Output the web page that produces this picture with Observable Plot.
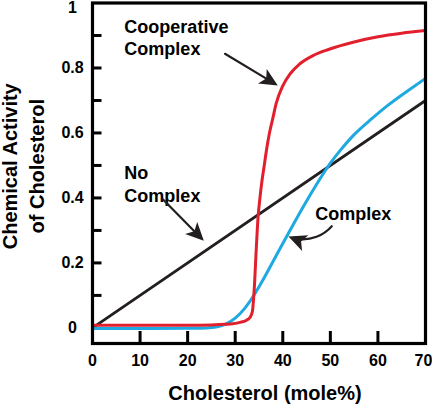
<!DOCTYPE html>
<html><head><meta charset="utf-8">
<script src="https://cdn.jsdelivr.net/npm/d3@7"></script>
<script src="https://cdn.jsdelivr.net/npm/@observablehq/plot@0.6"></script>
<style>html,body{margin:0;padding:0;background:#fff;} svg{display:block;}</style>
</head><body><div id="chart"></div>
<script>
// ---- data ----
const xTicks = [0, 10, 20, 30, 40, 50, 60];
const xLastTick = [70];
const xInnerTicks = [10, 20, 30, 40, 50, 60];
const yTicks = [0, 0.2, 0.4, 0.6, 0.8];
const yTopTick = [1];
const yInnerTicks = [0.1, 0.2, 0.3, 0.4, 0.5, 0.6, 0.7, 0.8, 0.9];

const xTitle = "Cholesterol (mole%)";
const yTitle = "Chemical Activity\nof Cholesterol";

const noComplexX = [0, 70];
const noComplexY = [0, 0.7];

const complexX = [0, 10, 20, 24, 26, 28, 30, 32, 34, 36, 38, 40, 42, 44, 46, 48, 50, 52, 55, 58, 62, 66, 70];
const complexY = [-0.002, -0.002, -0.001, 0.0, 0.003, 0.012, 0.03, 0.06, 0.102, 0.152, 0.206, 0.26, 0.313, 0.365, 0.415, 0.463, 0.507, 0.545, 0.595, 0.635, 0.684, 0.727, 0.768];

const coopX = [0, 10, 20, 25, 28, 29.5, 31, 32.3, 33.1, 33.6, 34.0, 34.4, 34.8, 35.2, 35.6, 36.1, 36.6, 37.2, 37.9, 38.6, 40.0, 41.6, 43.6, 46.6, 49.6, 55, 60, 65, 70];
const coopY = [0.008, 0.008, 0.008, 0.009, 0.011, 0.013, 0.017, 0.023, 0.032, 0.05, 0.12, 0.236, 0.34, 0.40, 0.45, 0.50, 0.55, 0.60, 0.645, 0.69, 0.745, 0.783, 0.813, 0.84, 0.857, 0.88, 0.896, 0.907, 0.915];

// annotations (data coordinates)
const labelText = ["Cooperative\nComplex", "No\nComplex", "Complex"];
const labelX = [6.7, 6.7, 46.8];
const labelY = [0.840, 0.389, 0.333];

const arrowX1 = [27.85, 14.84, 50.3];
const arrowY1 = [0.8437, 0.395, 0.313];
const arrowX2 = [38.95, 23.4, 41.2];
const arrowY2 = [0.746, 0.268, 0.281];
const arrowBend = [0, 0, 35];

// ---- layout / style ----
const W = 432, H = 406, mL = 92, mR = 7, mT = 2.5, mB = 63;
const xDomain = [0, 70], yDomain = [-0.048, 1];
const frameW = W - mL - mR, frameH = H - mT - mB;
const kx = frameW / (xDomain[1] - xDomain[0]);
const ky = frameH / (yDomain[1] - yDomain[0]);
const INK = "#231f20", RED = "#e21f2c", BLUE = "#1ea9e1";
const FONT = "'Liberation Sans', Arial, Helvetica, sans-serif";

const toPts = (xs, ys) => xs.map((x, i) => ({x, y: ys[i]}));
const noComplex = toPts(noComplexX, noComplexY);
const complex = toPts(complexX, complexY);
const coop = toPts(coopX, coopY);
const labels = labelText.map((t, i) => ({t, x: labelX[i], y: labelY[i]}));

// custom filled arrowhead symbol, tip at origin, rotated by theta (deg, clockwise from up)
function headSymbol(theta) {
  const a = theta * Math.PI / 180, c = Math.cos(a), s = Math.sin(a);
  const pts = [[0, 0], [-8.5, 18], [0, 13.5], [8.5, 18]].map(([x, y]) => [x * c - y * s, x * s + y * c]);
  return {draw(ctx) {
    ctx.moveTo(pts[0][0], pts[0][1]);
    for (let i = 1; i < pts.length; i++) ctx.lineTo(pts[i][0], pts[i][1]);
    ctx.closePath();
  }};
}

const arrowMarks = [];
arrowX1.forEach((_, i) => {
  const d = [{x1: arrowX1[i], y1: arrowY1[i], x2: arrowX2[i], y2: arrowY2[i]}];
  const dxp = (arrowX2[i] - arrowX1[i]) * kx, dyp = -(arrowY2[i] - arrowY1[i]) * ky;
  const phi = Math.atan2(dyp, dxp) * 180 / Math.PI + arrowBend[i];
  arrowMarks.push(Plot.arrow(d, {x1: "x1", y1: "y1", x2: "x2", y2: "y2", bend: arrowBend[i], headLength: 0, insetEnd: 10, stroke: INK, strokeWidth: 2.2}));
  arrowMarks.push(Plot.dot(d, {x: "x2", y: "y2", symbol: headSymbol(phi + 90), r: 5, fill: INK, stroke: "none"}));
});

const txt = {fontWeight: "bold", fill: "#000"};

const chart = Plot.plot({
  width: W, height: H,
  marginLeft: mL, marginRight: mR, marginTop: mT, marginBottom: mB,
  style: {fontFamily: FONT, background: "#fff"},
  x: {domain: xDomain, axis: null},
  y: {domain: yDomain, axis: null},
  marks: [
    Plot.line(noComplex, {x: "x", y: "y", stroke: INK, strokeWidth: 2.8}),
    Plot.line(complex, {x: "x", y: "y", stroke: BLUE, strokeWidth: 3, curve: "natural"}),
    Plot.line(coop, {x: "x", y: "y", stroke: RED, strokeWidth: 3, curve: "monotone-x"}),
    Plot.tickX(xInnerTicks, {x: d => d, insetTop: frameH - 12, stroke: "#000", strokeWidth: 3}),
    Plot.tickY(yInnerTicks, {y: d => d, insetRight: frameW - 9.5, stroke: "#000", strokeWidth: 3}),
    Plot.frame({stroke: "#000", strokeWidth: 3.2}),
    Plot.text(yTicks, {y: d => d, frameAnchor: "left", dx: -20, textAnchor: "middle", text: d => String(d), fontSize: 16, ...txt}),
    Plot.text(yTopTick, {y: d => d, frameAnchor: "left", dx: -20, dy: -1, lineAnchor: "top", textAnchor: "middle", text: d => String(d), fontSize: 16, ...txt}),
    Plot.text(xTicks, {x: d => d, frameAnchor: "bottom", lineAnchor: "bottom", dy: 22, textAnchor: "middle", text: d => String(d), fontSize: 16, ...txt}),
    Plot.text(xLastTick, {x: d => d, frameAnchor: "bottom", lineAnchor: "bottom", dy: 22, dx: -2, textAnchor: "middle", text: d => String(d), fontSize: 16, ...txt}),
    Plot.text([xTitle], {frameAnchor: "bottom", lineAnchor: "bottom", dy: 56, dx: 6, textAnchor: "middle", text: d => d, fontSize: 20, ...txt}),
    Plot.text([yTitle], {frameAnchor: "left", dx: -70.5, dy: -7, rotate: -90, textAnchor: "middle", lineAnchor: "middle", lineHeight: 1.33, text: d => d, fontSize: 20, ...txt}),
    Plot.text(labels, {x: "x", y: "y", text: "t", textAnchor: "start", lineAnchor: "bottom", lineHeight: 1.23, fontSize: 18, ...txt}),
    ...arrowMarks
  ]
});
document.getElementById("chart").appendChild(chart);
</script>
</body></html>
